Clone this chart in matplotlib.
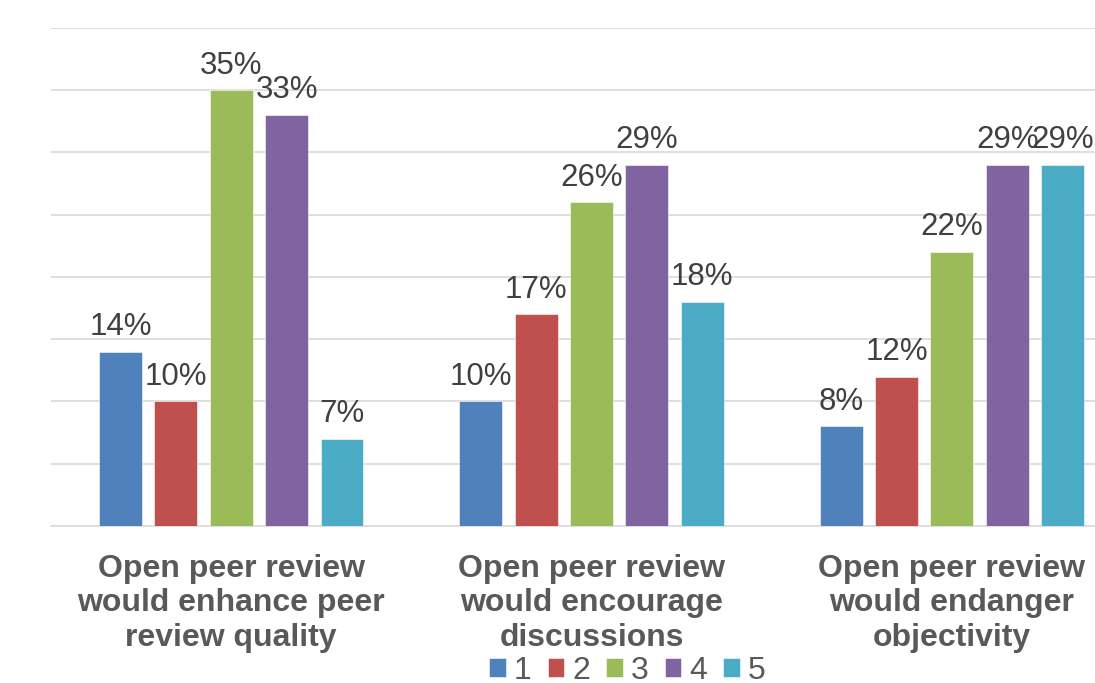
import numpy as np
import matplotlib.pyplot as plt

plt.rcParams['font.family'] = ['Liberation Sans', 'DejaVu Sans']

# data
categories = ['Open peer review\nwould enhance peer\nreview quality',
              'Open peer review\nwould encourage\ndiscussions',
              'Open peer review\nwould endanger\nobjectivity']
series = ['1', '2', '3', '4', '5']
values = {
    '1': [14, 10, 8],
    '2': [10, 17, 12],
    '3': [35, 26, 22],
    '4': [33, 29, 29],
    '5': [7, 18, 29],
}
colors = ['#4F81BD', '#C0504D', '#9BBB59', '#8064A2', '#4BACC6']

fig = plt.figure(figsize=(10.95, 6.83), dpi=100)
ax = fig.add_axes([0.0466, 0.2299, 0.9872, 0.7291])

x = np.arange(len(categories))
pitch = 0.1537
width = 0.119
for i, (s, c) in enumerate(zip(series, colors)):
    bars = ax.bar(x + (i - 2) * pitch, values[s], width, color=c, label=s,
                  edgecolor='white', linewidth=0.4, zorder=3)
    ax.bar_label(bars, fmt='%d%%', padding=7, fontsize=22.5, color='#404040')

ax.set_xlim(-0.5, 2.5)
ax.set_ylim(0, 40)
ax.set_yticks(np.arange(0, 41, 5))
ax.yaxis.grid(True, color='#d9d9d9', linewidth=1.2, zorder=0)
ax.tick_params(axis='y', length=0, labelleft=False)
ax.set_xticks(x)
ax.set_xticklabels(categories, fontsize=23, fontweight='bold', color='#595959',
                   linespacing=1.2)
ax.tick_params(axis='x', length=0, pad=20)
for sp in ['top', 'left', 'right']:
    ax.spines[sp].set_visible(False)
ax.spines['bottom'].set_color('#d9d9d9')
ax.spines['bottom'].set_linewidth(1.2)

fig.legend(loc='center', bbox_to_anchor=(0.573, 0.018), ncol=5, frameon=False,
           fontsize=23, labelcolor='#595959', handlelength=0.52, handleheight=0.52,
           handletextpad=0.25, columnspacing=0.5)

fig.savefig('out.png', dpi=100)
